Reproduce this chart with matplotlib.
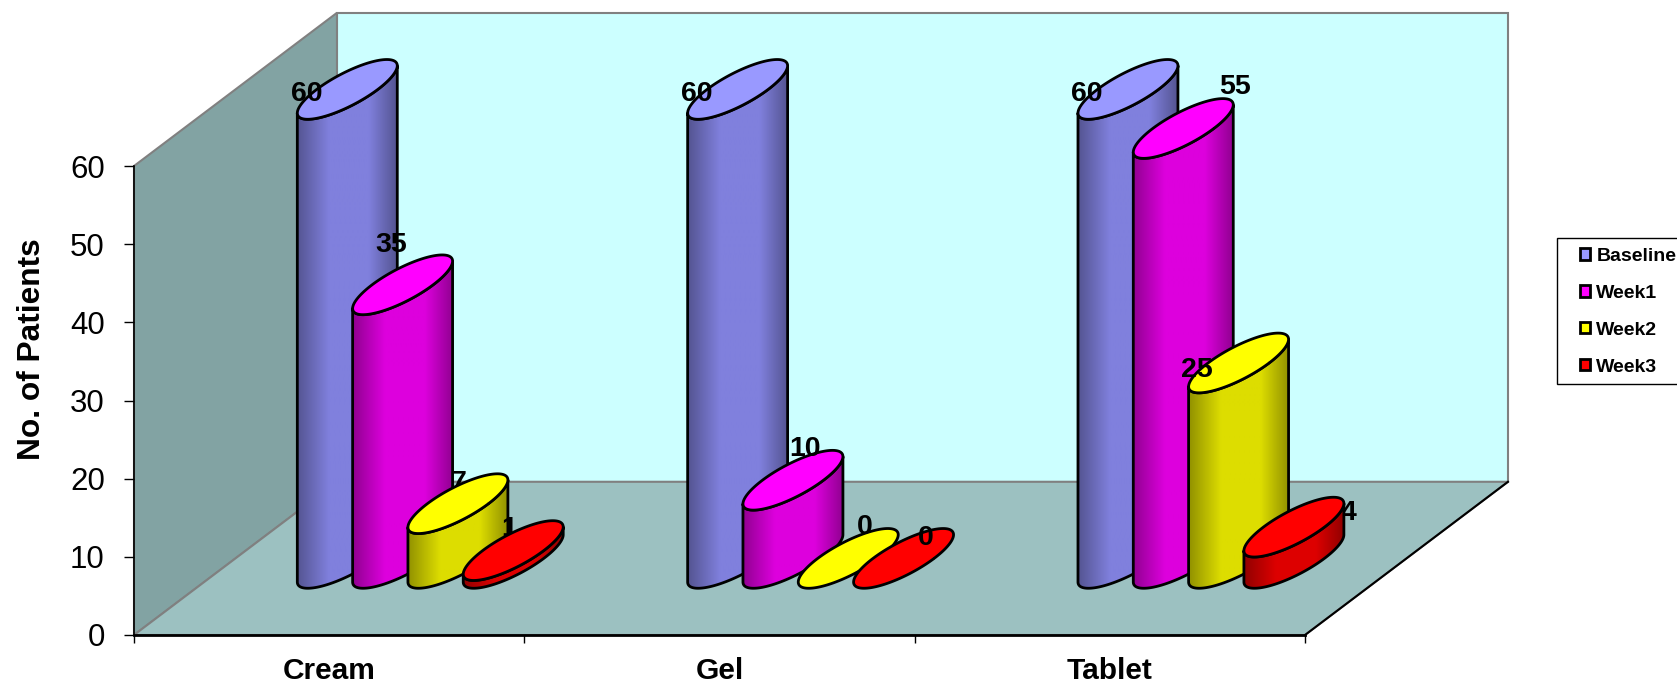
#%%
import numpy as np
import matplotlib
matplotlib.use("Agg")
import matplotlib.pyplot as plt
from matplotlib.patches import Patch, Polygon, Rectangle

plt.rcParams["font.family"] = ["Liberation Sans", "DejaVu Sans"]

#%%
categories = ["Cream", "Gel", "Tablet"]
series_names = ["Baseline", "Week1", "Week2", "Week3"]
baseline = [60, 60, 60]
week1 = [35, 10, 55]
week2 = [7, 0, 25]
week3 = [1, 0, 4]
y_ticks = [0, 10, 20, 30, 40, 50, 60]

top_colors = ["#9999FF", "#FF00FF", "#FFFF00", "#FF0000"]
side_colors = ["#8080DD", "#DD00DD", "#DDDD00", "#DD0000"]

# hand placed value labels, pixels from the centre of each cap
label_shift = [
    [(-41, -5), (-41, -5), (-41, -5)],
    [(-11, 40), (12, 31), (52, 41)],
    [(1, 21), (16, 31), (-42, -7)],
    [(-4, 22), (22, 20), (55, 14)],
]
# these labels sit behind their own cylinder
label_behind = [(2, 0), (3, 0), (3, 2)]

# depth vector of the fake 3d box, in data units
DEPTH_X = 0.52
DEPTH_Y = 19.6
Z_MID = 0.50
R_X = 0.0782
R_Z = 0.195
STEP = 0.1417
GROUP_MID = 0.499


#%%
def cap_curve(cx, value, t):
    """Ellipse lying on the floor plane, lifted up to value"""
    z = Z_MID + R_Z * np.sin(t)
    return cx + R_X * np.cos(t) + DEPTH_X * z, value + DEPTH_Y * z


def draw_cylinder(ax, cx, value, top_color, side_color, z):
    """Side with a horizontal shade, then the cap on top"""
    right = np.arctan2(R_Z * DEPTH_X, R_X)
    if value > 0:
        t = np.linspace(right + np.pi, right + 2 * np.pi, 80)
        bx, by = cap_curve(cx, 0, t)
        tx, ty = cap_curve(cx, value, t[::-1])
        side = Polygon(np.column_stack([np.r_[bx, tx], np.r_[by, ty]]), closed=True,
            fc="none", ec="black", lw=2, joinstyle="round", clip_on=False, zorder=z + 0.2)
        ax.add_patch(side)

        u = np.linspace(0, 1, 120)
        shade = np.interp(u, [0, 0.32, 0.72, 1], [0.66, 1, 1, 0.66])
        rgb = np.array(matplotlib.colors.to_rgb(side_color))
        strip = (shade[:, None] * rgb)[None, :, :]
        im = ax.imshow(strip, extent=(bx.min(), bx.max(), 0, ty.max() + DEPTH_Y),
            aspect="auto", origin="lower", interpolation="bilinear", zorder=z + 0.1)
        im.set_clip_box(ax.figure.bbox)
        im.set_clip_path(side.get_path(), side.get_transform())

    t = np.linspace(0, 2 * np.pi, 160)
    cap = Polygon(np.column_stack(cap_curve(cx, value, t)), closed=True,
        fc=top_color, ec="black", lw=2, clip_on=False, zorder=z + 0.3)
    ax.add_patch(cap)


#%%
fig = plt.figure(figsize=(16.77, 6.85), dpi=100)
ax = fig.add_axes([134 / 1677, 1 - 635 / 685, 1171 / 1677, 469 / 685])
ax.patch.set_visible(False)

n = len(categories)
top = y_ticks[-1]

# walls and floor
left_wall = [(0, 0), (0, top), (DEPTH_X, top + DEPTH_Y), (DEPTH_X, DEPTH_Y)]
back_wall = [(DEPTH_X, DEPTH_Y), (n + DEPTH_X, DEPTH_Y), (n + DEPTH_X, top + DEPTH_Y), (DEPTH_X, top + DEPTH_Y)]
floor = [(0, 0), (n, 0), (n + DEPTH_X, DEPTH_Y), (DEPTH_X, DEPTH_Y)]
for pts, color in zip([back_wall, left_wall, floor], ["#CCFFFF", "#82A3A3", "#9CC1C1"]):
    ax.add_patch(Polygon(pts, closed=True, fc=color, ec="#808080", lw=1.5, clip_on=False, zorder=0.5))
ax.plot([n, n + DEPTH_X], [0, DEPTH_Y], color="black", lw=1.5, clip_on=False, zorder=1)

# cylinders, back to front from left to right
values = [baseline, week1, week2, week3]
z = 3
for i in range(n):
    for j, vals in enumerate(values):
        cx = i + GROUP_MID + (j - 1.5) * STEP
        v = vals[i]
        anchor = (cx + DEPTH_X * Z_MID, v + DEPTH_Y * Z_MID)
        behind = (j, i) in label_behind
        ax.annotate(str(v), xy=anchor, xytext=label_shift[j][i], textcoords="offset pixels",
            ha="center", va="center", fontsize=20.5, fontweight="bold", color="black",
            annotation_clip=False, zorder=z if behind else 1000)
        draw_cylinder(ax, cx, v, top_colors[j], side_colors[j], z)
        z += 1

ax.set_xlim(0, n)
ax.set_ylim(0, top)

#%%
# axes
for name in ["top", "right"]:
    ax.spines[name].set_visible(False)
ax.spines["left"].set_linewidth(1.2)
ax.spines["bottom"].set_linewidth(2)
ax.set_yticks(y_ticks)
ax.tick_params(axis="y", labelsize=22.5, length=7, width=1, pad=14)
ax.set_xticks(range(n + 1))
ax.set_xticklabels([])
ax.tick_params(axis="x", which="major", length=6, width=1)
ax.set_xticks([i + 0.5 for i in range(n)], minor=True)
ax.set_xticklabels(categories, minor=True, fontsize=21.5, fontweight="bold")
ax.tick_params(axis="x", which="minor", length=0, pad=16)
ax.set_ylabel("No. of Patients", fontsize=22.8, fontweight="bold")
ax.yaxis.set_label_coords(-87 / 1171, (635 - 349) / 469)

# legend box runs past the right edge of the figure
fig.add_artist(Rectangle((1557 / 1677, 1 - 384 / 685), 200 / 1677, 146 / 685,
    transform=fig.transFigure, fc="white", ec="black", lw=1, zorder=5))
handles = [Patch(fc=c, ec="black", lw=2) for c in top_colors]
leg = fig.legend(handles, series_names, loc="upper left",
    bbox_to_anchor=(1580 / 1677, 1 - 248 / 685), bbox_transform=fig.transFigure,
    prop={"size": 14, "weight": "bold"}, frameon=False, borderpad=0, borderaxespad=0,
    labelspacing=1.02, handlelength=0.52, handleheight=0.52, handletextpad=0.32)
leg.set_zorder(6)

fig.savefig("out.png", dpi=100)
